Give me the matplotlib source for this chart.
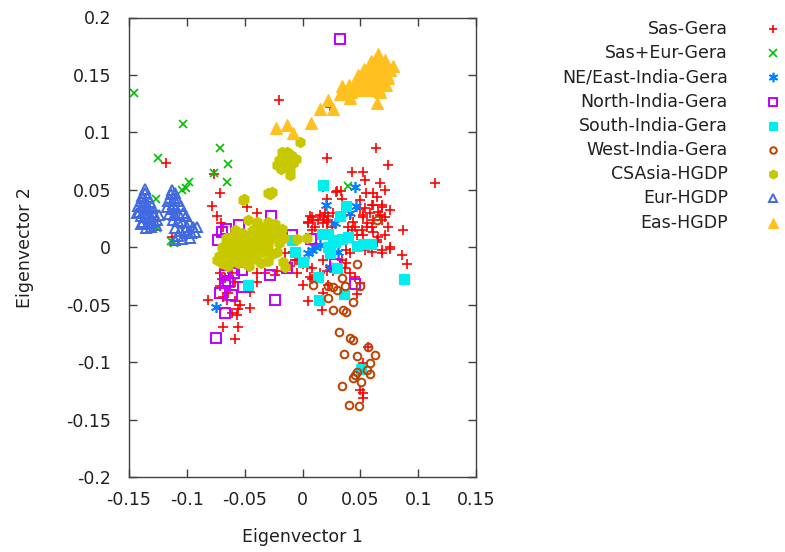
import matplotlib
matplotlib.use("Agg")
import matplotlib.pyplot as plt
from matplotlib.lines import Line2D

plt.rcParams["font.family"] = ["DejaVu Sans"]
plt.rcParams["font.size"] = 12.5

# ---- data ----
sas_x = [-0.0203, -0.118, -0.0765, -0.0714, -0.078, -0.074, -0.048, -0.039, -0.110, -0.113, -0.069, -0.0705,
         0.0636, 0.021, 0.074, 0.043, 0.052, 0.054, 0.1146, 0.067, 0.0714, 0.030, 0.033, 0.0177, 0.061, 0.055,
         0.064, 0.021, 0.034, 0.050, 0.061, 0.069, 0.076, 0.029,
         0.0065, 0.009, 0.005, 0.015, 0.019, 0.022, 0.021, 0.026, 0.0195, 0.022, 0.018, 0.0255, 0.021, 0.0134,
         0.0082, 0.0048, 0.0108,
         0.041, 0.044, 0.050, 0.054, 0.052, 0.058, 0.061, 0.067, 0.069, 0.060, 0.065, 0.069, 0.052, 0.0558,
         0.0515, 0.060, 0.071, 0.074, 0.071,
         0.056, 0.061, 0.065, 0.052, 0.087, 0.008, 0.039, 0.043, 0.045, 0.047, 0.039, 0.024,
         0.0757, 0.0688, 0.086, 0.0904, 0.0644, 0.069, 0.076, 0.064, 0.038, 0.041, 0.054, 0.060,
         -0.008, -0.005, 0.000, 0.008, 0.0065, 0.000, 0.018, 0.024, 0.026, 0.021, 0.038, 0.041, 0.045, 0.037,
         0.034, 0.018, 0.005, 0.017, 0.047, 0.050, 0.015, 0.008, 0.022,
         -0.015, -0.0065, -0.011, 0.004, -0.022, -0.005,
         -0.0714, -0.070, -0.067, -0.0714, -0.061, -0.058, -0.063, -0.064, -0.082, -0.069, -0.065, -0.058,
         -0.054, -0.056, -0.045, -0.061, -0.057, -0.069, -0.056, -0.058, -0.039, -0.032, -0.024, -0.039,
         -0.045, -0.050, -0.056,
         0.052, 0.057, 0.052, 0.052, 0.050]
sas_y = [0.1285, 0.0736, 0.064, 0.0475, 0.036, 0.0274, 0.035, 0.030, 0.024, 0.009, 0.018, 0.021,
         0.0866, 0.078, 0.072, 0.0658, 0.0658, 0.0588, 0.056, 0.056, 0.050, 0.049, 0.049, 0.0527, 0.0475, 0.047,
         0.044, 0.042, 0.042, 0.041, 0.037, 0.035, 0.032, 0.048,
         0.0275, 0.024, 0.022, 0.028, 0.026, 0.027, 0.022, 0.030, 0.030, 0.024, 0.0213, 0.018, 0.015, 0.024,
         0.0265, 0.0213, 0.0178,
         0.028, 0.022, 0.033, 0.034, 0.028, 0.030, 0.024, 0.028, 0.024, 0.037, 0.031, 0.037, 0.0265, 0.0213,
         0.015, 0.018, 0.0265, 0.018, 0.011,
         0.018, 0.0135, 0.009, 0.011, 0.0152, 0.015, 0.018, 0.015, 0.018, 0.011, 0.011, 0.122,
         -0.0013, -0.005, -0.0065, -0.015, 0.0065, -0.002, 0.000, 0.005, -0.002, -0.005, -0.002, -0.004,
         -0.004, -0.011, -0.015, -0.018, -0.026, -0.033, -0.011, -0.017, -0.021, -0.021, -0.0135, -0.022, -0.026,
         -0.018, -0.011, -0.040, -0.047, -0.055, -0.041, -0.031, -0.022, -0.028, -0.033,
         -0.005, -0.011, -0.016, -0.017, -0.021, -0.022,
         -0.022, -0.028, -0.0266, -0.034, -0.022, -0.030, -0.035, -0.040, -0.046, -0.043, -0.046, -0.047,
         -0.050, -0.054, -0.053, -0.057, -0.059, -0.069, -0.069, -0.080, -0.022, -0.022, -0.024, -0.030,
         -0.039, -0.015, -0.017,
         -0.1006, -0.087, -0.127, -0.131, -0.124]

saseur_x = [-0.1455, -0.1035, -0.1245, -0.0715, -0.064, -0.0765, -0.065, -0.098, -0.101, -0.104,
            -0.127, -0.126, -0.114, -0.111, 0.039]
saseur_y = [0.134, 0.107, 0.078, 0.0865, 0.0725, 0.065, 0.057, 0.057, 0.052, 0.0495,
            0.042, 0.017, 0.0057, 0.004, 0.053]

ne_x = [0.0455, 0.0205, 0.046, 0.041, 0.028, 0.008, 0.011, 0.031, 0.015, 0.024, -0.075, 0.005]
ne_y = [0.0525, 0.037, 0.036, 0.030, 0.021, -0.002, 0.000, -0.004, 0.002, -0.017, -0.052, -0.005]

north_x = [0.0325, -0.027, -0.066, -0.055, -0.073, -0.009, 0.007, -0.067, -0.067, -0.0714, -0.061, -0.067,
           -0.075, -0.024, -0.028, -0.052, -0.0515, -0.0135, -0.064, -0.070, 0.028, 0.045, -0.059]
north_y = [0.181, 0.0274, 0.016, 0.019, 0.0065, 0.011, 0.0074, -0.024, -0.031, -0.040, -0.042, -0.057,
           -0.079, -0.046, -0.024, -0.0196, -0.035, -0.018, -0.029, 0.013, -0.0145, -0.032, -0.022]

south_x = [0.018, 0.038, 0.0325, 0.017, 0.022, 0.026, 0.034, 0.039, 0.047, 0.056, 0.022, 0.024, 0.028,
           0.030, -0.0065, 0.000, 0.0134, 0.030, 0.036, 0.0143, 0.088, -0.009, -0.047, -0.045, 0.051,
           0.052, 0.059]
south_y = [0.0545, 0.036, 0.0274, 0.0118, 0.0118, 0.0065, 0.0074, 0.009, 0.0013, 0.003, 0.000, -0.005,
           0.005, -0.018, -0.004, -0.0126, -0.0257, -0.018, -0.041, -0.046, -0.028, 0.0065, -0.0326,
           -0.004, -0.106, 0.003, 0.003]

west_x = [0.064, 0.047, 0.009, 0.022, 0.026, 0.030, 0.037, 0.050, 0.034, 0.022, 0.044, 0.026, 0.035,
          0.038, 0.0316, 0.041, 0.044, 0.057, 0.036, 0.047, 0.063, 0.058, 0.0558, 0.058, 0.045, 0.047,
          0.044, 0.051, 0.034, 0.040, 0.049]
west_y = [0.024, -0.0145, -0.0327, -0.034, -0.035, -0.037, -0.034, -0.0335, -0.0265, -0.044, -0.048,
          -0.055, -0.055, -0.056, -0.0736, -0.079, -0.0806, -0.0867, -0.093, -0.095, -0.094, -0.1006,
          -0.1067, -0.110, -0.111, -0.109, -0.1136, -0.117, -0.1206, -0.137, -0.138]

csasia_x = [-0.072, -0.068, -0.068, -0.064, -0.064, -0.064, -0.060, -0.060, -0.060, -0.056, -0.056, -0.056,
            -0.052, -0.052, -0.052, -0.048, -0.048, -0.048, -0.044, -0.044, -0.044, -0.040, -0.040, -0.040,
            -0.036, -0.036, -0.034, -0.032, -0.030, -0.030, -0.028, -0.026, -0.026, -0.024, -0.022, -0.020,
            -0.018, -0.016, -0.030, -0.036, -0.022,
            -0.070, -0.066, -0.062, -0.058, -0.054, -0.050, -0.046, -0.042, -0.038, -0.034, -0.062, -0.050,
            -0.046, -0.042, -0.038, -0.070, -0.066, -0.058, -0.054, -0.034, -0.028, -0.024, -0.032, -0.020,
            -0.047, -0.058, -0.005, 0.004, -0.039, -0.015, -0.017, -0.074,
            -0.018, -0.013, -0.010, -0.016, -0.020, -0.012, -0.008, -0.015, -0.019, -0.011, -0.022, -0.006,
            -0.014, -0.017, -0.002, -0.030, -0.026, -0.051, -0.011, -0.0515, -0.028]
csasia_y = [-0.008, -0.002, -0.012, 0.004, -0.006, -0.016, 0.010, 0.000, -0.010, 0.006, -0.004, -0.014,
            0.012, 0.002, -0.008, 0.008, -0.002, -0.012, 0.004, -0.006, 0.014, 0.010, 0.000, -0.010,
            0.018, 0.006, -0.004, 0.012, 0.022, 0.002, 0.016, 0.008, -0.006, 0.020, 0.012, 0.004,
            0.016, 0.008, -0.012, -0.014, -0.004,
            -0.014, 0.008, -0.002, 0.004, 0.000, 0.006, 0.010, -0.002, 0.004, 0.010, -0.012, -0.014,
            -0.016, 0.016, 0.014, 0.000, -0.008, -0.008, 0.010, 0.002, 0.008, 0.014, 0.018, 0.010,
            0.024, 0.015, 0.0074, 0.008, 0.022, -0.017, -0.013, -0.011,
            0.083, 0.083, 0.080, 0.078, 0.076, 0.075, 0.073, 0.071, 0.068, 0.068, 0.072, 0.077,
            0.079, 0.074, 0.092, 0.047, 0.048, 0.042, 0.063, 0.041, 0.046]

eur_x = [-0.136, -0.138, -0.134, -0.140, -0.136, -0.132, -0.142, -0.138, -0.134, -0.130, -0.141, -0.137,
         -0.133, -0.129, -0.140, -0.136, -0.132, -0.128, -0.138, -0.134, -0.130, -0.135, -0.131, -0.126,
         -0.136, -0.139, -0.143, -0.127, -0.140, -0.124,
         -0.114, -0.111, -0.116, -0.112, -0.108, -0.117, -0.113, -0.109, -0.105, -0.115, -0.111, -0.107,
         -0.112, -0.108, -0.104, -0.101, -0.098, -0.095, -0.110, -0.106, -0.102, -0.099, -0.093, -0.108,
         -0.104, -0.097, -0.113, -0.110, -0.103, -0.100, -0.096, -0.110, -0.091]
eur_y = [0.047, 0.043, 0.044, 0.040, 0.039, 0.039, 0.036, 0.035, 0.034, 0.036, 0.031, 0.030,
         0.030, 0.031, 0.027, 0.026, 0.025, 0.027, 0.022, 0.021, 0.022, 0.017, 0.018, 0.024,
         0.051, 0.045, 0.030, 0.019, 0.020, 0.028,
         0.046, 0.043, 0.040, 0.038, 0.040, 0.035, 0.033, 0.034, 0.036, 0.029, 0.028, 0.029,
         0.024, 0.023, 0.022, 0.027, 0.022, 0.018, 0.017, 0.014, 0.015, 0.012, 0.013, 0.010,
         0.007, 0.008, 0.050, 0.047, 0.030, 0.018, 0.012, 0.006, 0.018]

eas_x = [0.065, 0.062, 0.068, 0.058, 0.064, 0.070, 0.076, 0.055, 0.061, 0.067, 0.073, 0.050, 0.056,
         0.062, 0.068, 0.074, 0.045, 0.051, 0.057, 0.063, 0.069, 0.040, 0.046, 0.052, 0.034, 0.060,
         0.066, 0.072, 0.042, 0.037,
         0.059, 0.065, 0.071, 0.053, 0.048, 0.054, 0.060, 0.066, 0.072, 0.078, 0.070,
         0.0645, 0.026, 0.015, 0.022, 0.032, 0.0075, -0.023, -0.0135, -0.008, 0.041, 0.050, 0.058, 0.067]
eas_y = [0.165, 0.160, 0.160, 0.156, 0.156, 0.156, 0.154, 0.152, 0.151, 0.151, 0.150, 0.148, 0.147,
         0.146, 0.146, 0.147, 0.144, 0.143, 0.142, 0.141, 0.142, 0.141, 0.139, 0.138, 0.140, 0.137,
         0.138, 0.141, 0.135, 0.136,
         0.162, 0.168, 0.163, 0.155, 0.150, 0.145, 0.148, 0.153, 0.158, 0.158, 0.146,
         0.126, 0.120, 0.120, 0.128, 0.133, 0.1085, 0.104, 0.1065, 0.0995, 0.130, 0.137, 0.137, 0.1355]

# (label, x, y, marker, color, size, filled)
series = [
    ("Sas-Gera", sas_x, sas_y, "+", "#FF0000", 7, True),
    ("Sas+Eur-Gera", saseur_x, saseur_y, "x", "#00C000", 6, True),
    ("NE/East-India-Gera", ne_x, ne_y, (6, 2, 0), "#0080FF", 8, True),
    ("North-India-Gera", north_x, north_y, "s", "#C000FF", 6.5, False),
    ("South-India-Gera", south_x, south_y, "s", "#00EEEE", 6.5, True),
    ("West-India-Gera", west_x, west_y, "o", "#C04000", 5.5, False),
    ("CSAsia-HGDP", csasia_x, csasia_y, "h", "#C8C800", 7.5, True),
    ("Eur-HGDP", eur_x, eur_y, "^", "#4169E1", 7.5, False),
    ("Eas-HGDP", eas_x, eas_y, "^", "#FFC020", 8, True),
]

fig = plt.figure(figsize=(7.85, 5.52), dpi=100)
ax = fig.add_axes([129 / 785, 1 - 477 / 552, 347 / 785, 459.5 / 552])


def style(marker, color, size, filled):
    kw = dict(marker=marker, markersize=size, linestyle="none", color=color)
    if marker in ("+", "x") or isinstance(marker, tuple):
        kw["markeredgewidth"] = 1.2
    elif filled:
        kw["markeredgewidth"] = 0.8
        kw["markerfacecolor"] = color
        kw["markeredgecolor"] = color
    else:
        kw["markeredgewidth"] = 1.4
        kw["markerfacecolor"] = "none"
        kw["markeredgecolor"] = color
    return kw


for label, xs, ys, marker, color, size, filled in series:
    ax.plot(xs, ys, **style(marker, color, size, filled))

ax.set_xlim(-0.15, 0.15)
ax.set_ylim(-0.2, 0.2)
ax.set_xticks([-0.15, -0.1, -0.05, 0, 0.05, 0.1, 0.15])
ax.set_xticklabels(["-0.15", "-0.1", "-0.05", "0", "0.05", "0.1", "0.15"])
ax.set_yticks([-0.2, -0.15, -0.1, -0.05, 0, 0.05, 0.1, 0.15, 0.2])
ax.set_yticklabels(["-0.2", "-0.15", "-0.1", "-0.05", "0", "0.05", "0.1", "0.15", "0.2"])
ax.tick_params(direction="in", length=6, width=1, top=True, right=True,
               color="#404040", labelcolor="#202020")
ax.tick_params(axis="x", pad=10)
ax.tick_params(axis="y", pad=13)
for s in ax.spines.values():
    s.set_color("#404040")
    s.set_linewidth(1)

ax.set_xlabel("Eigenvector 1", va="center", color="#202020")
ax.xaxis.set_label_coords(0.5, -(537 - 477) / 459.5)
ax.set_ylabel("Eigenvector 2", va="center", color="#202020")
ax.yaxis.set_label_coords(-(129 - 25) / 347, 0.5)

# gnuplot-style key: right-aligned text with sample marker to its right
for i, (label, xs, ys, marker, color, size, filled) in enumerate(series):
    yk = 1 - (29 + i * 24.2) / 552
    fig.text(728 / 785, yk, label, ha="right", va="center", color="#202020")
    fig.add_artist(Line2D([773 / 785], [yk], transform=fig.transFigure,
                          **style(marker, color, size * 0.85, filled)))

fig.savefig("out.png", dpi=100)
